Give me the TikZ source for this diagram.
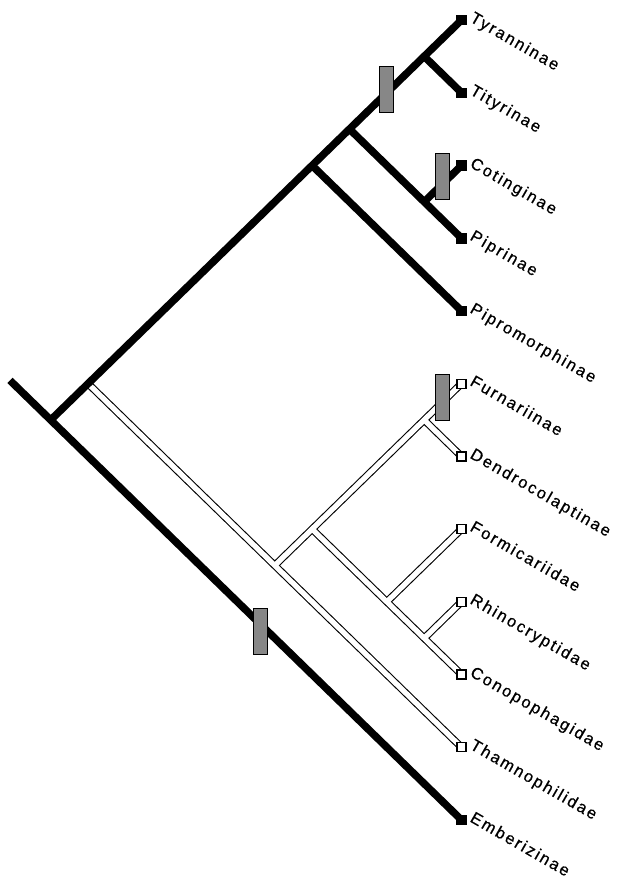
\documentclass[tikz,border=0pt]{standalone}
\usepackage{fontspec}
\newfontfamily\labfont[LetterSpace=12,FakeBold=0.6]{Liberation Sans}
\definecolor{bargray}{RGB}{135,135,135}
\begin{document}
\begin{tikzpicture}[x=1pt,y=-1pt,
  blk/.style={line width=7.5pt},
  wout/.style={line width=7.5pt,black},
  win/.style={line width=5.3pt,white},
  tipB/.style={draw=black,fill=black,minimum size=9.5pt,inner sep=0pt,line width=0.8pt},
  tipW/.style={draw=black,fill=white,minimum size=9pt,inner sep=0pt,line width=1.2pt},
  bar/.style={draw=black,fill=bargray,line width=1pt,minimum width=14pt,minimum height=46pt,inner sep=0pt},
  lab/.style={anchor=base west,rotate=-30,inner sep=0pt,font=\labfont\fontsize{16.5}{19}\selectfont}]
\useasboundingbox (0,0) rectangle (619,885);
\fill[white] (0,0) rectangle (619,885);
% internal nodes
\coordinate (stem) at (10,380.4);
\coordinate (root) at (50.7,420);
\coordinate (nsub) at (88.0,383.6);
\coordinate (ntyr) at (312.1,165.5);
\coordinate (nttcp) at (349.5,129.1);
\coordinate (ntt) at (424.2,56.4);
\coordinate (ncp) at (424.2,201.8);
\coordinate (nft) at (274.7,565.5);
\coordinate (nfdfrc) at (312.1,529.1);
\coordinate (nfd) at (424.2,420);
\coordinate (nfrc) at (386.8,601.8);
\coordinate (nrc) at (424.2,638.2);
% tips
\coordinate (tTyr) at (461.5,20);
\coordinate (tTit) at (461.5,92.7);
\coordinate (tCot) at (461.5,165.5);
\coordinate (tPip) at (461.5,238.2);
\coordinate (tPipro) at (461.5,310.9);
\coordinate (tFur) at (461.5,383.6);
\coordinate (tDen) at (461.5,456.4);
\coordinate (tFor) at (461.5,529.1);
\coordinate (tRhi) at (461.5,601.8);
\coordinate (tCon) at (461.5,674.5);
\coordinate (tTha) at (461.5,747.3);
\coordinate (tEmb) at (461.5,820);
% white (hollow) branches: outline then interior
\foreach \st in {wout,win}{
  \draw[\st] (nsub) -- (tTha);
  \draw[\st] (nft) -- (tFur);
  \draw[\st] (nfdfrc) -- (tCon);
  \draw[\st] (nfd) -- (tDen);
  \draw[\st] (nfrc) -- (tFor);
  \draw[\st] (nrc) -- (tRhi);
}
% black branches
\draw[blk] (stem) -- (tEmb);
\draw[blk] (root) -- (tTyr);
\draw[blk] (ntt) -- (tTit);
\draw[blk] (nttcp) -- (tPip);
\draw[blk] (ncp) -- (tCot);
\draw[blk] (ntyr) -- (tPipro);
% tip squares
\node[tipB] (sTyr) at (tTyr) {};
\node[tipB] (sTit) at (tTit) {};
\node[tipB] (sCot) at (tCot) {};
\node[tipB] (sPip) at (tPip) {};
\node[tipB] (sPipro) at (tPipro) {};
\node[tipW] (sFur) at (tFur) {};
\node[tipW] (sDen) at (tDen) {};
\node[tipW] (sFor) at (tFor) {};
\node[tipW] (sRhi) at (tRhi) {};
\node[tipW] (sCon) at (tCon) {};
\node[tipW] (sTha) at (tTha) {};
\node[tipB] (sEmb) at (tEmb) {};
% character bars
\node[bar] (b1) at (386,90) {};
\node[bar] (b2) at (442,177) {};
\node[bar] (b3) at (442,397) {};
\node[bar] (b4) at (260,631) {};
% labels
\node[lab] (lTyr) at (469,21) {Tyranninae};
\node[lab] (lTit) at (469,93.7) {Tityrinae};
\node[lab] (lCot) at (469,166.5) {Cotinginae};
\node[lab] (lPip) at (469,239.2) {Piprinae};
\node[lab] (lPipro) at (469,311.9) {Pipromorphinae};
\node[lab] (lFur) at (469,384.6) {Furnariinae};
\node[lab] (lDen) at (469,457.4) {Dendrocolaptinae};
\node[lab] (lFor) at (469,530.1) {Formicariidae};
\node[lab] (lRhi) at (469,602.8) {Rhinocryptidae};
\node[lab] (lCon) at (469,675.5) {Conopophagidae};
\node[lab] (lTha) at (469,748.3) {Thamnophilidae};
\node[lab] (lEmb) at (469,821) {Emberizinae};
\end{tikzpicture}
\end{document}
